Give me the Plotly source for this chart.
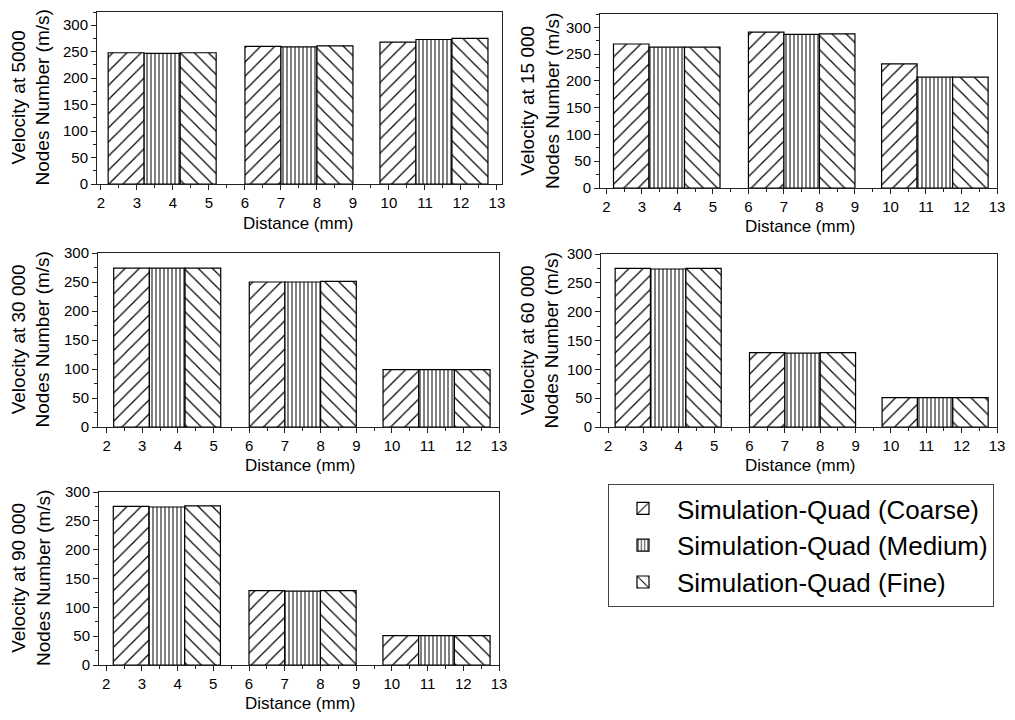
import plotly.graph_objects as go

# The page body has an 8 px default margin, so the figure is drawn 8 px in.
OFF = 8
W, H = 1015 - 2 * OFF, 720 - 2 * OFF

# ---------------- data ----------------
distance = [3.7, 7.5, 11.25]
series_names = ["Simulation-Quad (Coarse)", "Simulation-Quad (Medium)", "Simulation-Quad (Fine)"]
x_ticks = list(range(2, 14))

v5000_coarse = [248, 260, 268]
v5000_medium = [247, 259, 273]
v5000_fine = [248, 261, 275]

v15000_coarse = [269, 291, 232]
v15000_medium = [263, 287, 207]
v15000_fine = [263, 288, 207]

v30000_coarse = [274, 250, 99]
v30000_medium = [274, 250, 99]
v30000_fine = [274, 251, 99]

v60000_coarse = [275, 129, 51]
v60000_medium = [274, 128, 51]
v60000_fine = [275, 129, 51]

v90000_coarse = [275, 129, 51]
v90000_medium = [274, 128, 51]
v90000_fine = [276, 129, 51]

y_titles = [
    "Velocity at 5000<br>Nodes Number (m/s)",
    "Velocity at 15 000<br>Nodes Number (m/s)",
    "Velocity at 30 000<br>Nodes Number (m/s)",
    "Velocity at 60 000<br>Nodes Number (m/s)",
    "Velocity at 90 000<br>Nodes Number (m/s)",
]
x_title = "Distance (mm)"

panels_data = [
    (v5000_coarse, v5000_medium, v5000_fine),
    (v15000_coarse, v15000_medium, v15000_fine),
    (v30000_coarse, v30000_medium, v30000_fine),
    (v60000_coarse, v60000_medium, v60000_fine),
    (v90000_coarse, v90000_medium, v90000_fine),
]

# ---------------- layout geometry (window pixels) ----------------
boxes = [
    (97, 502, 12, 184),
    (600, 997, 14, 188),
    (98, 499, 253, 427),
    (601, 997, 254, 427),
    (99, 499, 492, 665),
]
x_ranges = [[1.89, 13.14], [1.82, 13.0], [1.76, 13.0], [1.8, 13.0], [1.8, 13.0]]
y_ranges = [[0, 325], [0, 325], [0, 300], [0, 300], [0, 300]]
ytitle_x = [30.5, 540, 30.5, 539, 30.5]
xtitle_pos = [(298, 223), (800, 227), (300, 465), (800, 465), (300, 703)]


def px(xp):
    return (xp - OFF) / W


def py(yp):
    return 1 - (yp - OFF) / H


patterns = [
    dict(shape="/", size=10, solidity=0.12),
    dict(shape="|", size=4, solidity=0.25),
    dict(shape="\\", size=10, solidity=0.12),
]

FONT = "Liberation Sans"
AX_COL = "#222222"

fig = go.Figure()

for p, (vals, box) in enumerate(zip(panels_data, boxes)):
    sfx = "" if p == 0 else str(p + 1)
    for s, (yv, pat) in enumerate(zip(vals, patterns)):
        fig.add_trace(go.Bar(
            x=distance, y=yv, name=series_names[s],
            xaxis="x" + sfx, yaxis="y" + sfx,
            legendgroup=series_names[s], showlegend=(p == 0),
            marker=dict(
                color="white",
                line=dict(color="black", width=1.2),
                pattern=dict(fgcolor="black", bgcolor="white", fillmode="replace", **pat),
            ),
            hoverinfo="x+y+name",
        ))
    l, r, t, b = box
    common = dict(
        showline=True, linecolor=AX_COL, linewidth=1, mirror=True,
        ticks="outside", ticklen=5, tickwidth=1, tickcolor=AX_COL,
        showgrid=False, zeroline=False, automargin=False,
        ticklabeloverflow="allow",
        tickfont=dict(family=FONT, size=15, color="black"),
    )
    fig.update_layout(**{
        "xaxis" + sfx: dict(
            domain=[px(l), min(px(r), 1.0)], range=x_ranges[p], anchor="y" + sfx,
            tickmode="array", tickvals=x_ticks, ticktext=[str(v) for v in x_ticks],
            minor=dict(ticks="outside", ticklen=3, dtick=0.5, tick0=2, tickcolor=AX_COL),
            **common,
        ),
        "yaxis" + sfx: dict(
            domain=[py(b), py(t)], range=y_ranges[p], anchor="x" + sfx,
            tick0=0, dtick=50,
            minor=dict(ticks="outside", ticklen=3, dtick=25, tick0=0, tickcolor=AX_COL),
            **common,
        ),
    })
    fig.add_annotation(
        text=y_titles[p], xref="paper", yref="paper",
        x=px(ytitle_x[p]), y=py((t + b) / 2),
        xanchor="center", yanchor="middle", textangle=-90, showarrow=False,
        font=dict(family=FONT, size=19, color="black"),
    )
    xt, yt = xtitle_pos[p]
    fig.add_annotation(
        text=x_title, xref="paper", yref="paper",
        x=px(xt), y=py(yt), xanchor="center", yanchor="middle",
        showarrow=False, font=dict(family=FONT, size=17, color="black"),
    )

fig.update_layout(
    width=W, height=H,
    margin=dict(l=0, r=0, t=0, b=0, autoexpand=False),
    paper_bgcolor="white", plot_bgcolor="white",
    barmode="group", bargap=0.2, bargroupgap=0,
    showlegend=True,
    legend=dict(
        x=px(608), y=py(484), xanchor="left", yanchor="top",
        bordercolor="#444444", borderwidth=1, bgcolor="white",
        font=dict(family=FONT, size=26, color="black"),
        itemwidth=58, tracegroupgap=0, traceorder="normal",
    ),
    font=dict(family=FONT),
)

fig.write_html("out.html")
